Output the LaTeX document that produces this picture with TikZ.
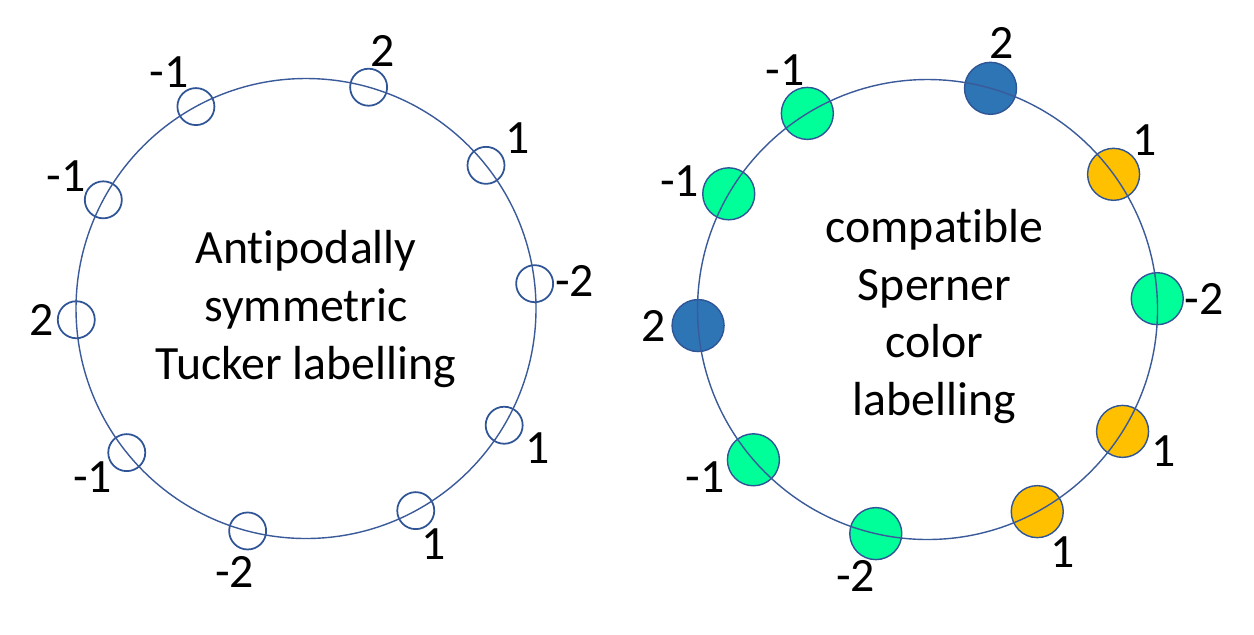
\documentclass[tikz,border=0pt]{standalone}
\usepackage{fontspec}
\setmainfont{Carlito}[Ligatures=NoCommon]
\usetikzlibrary{calc}
\definecolor{rimblue}{HTML}{3A5A9A}
\definecolor{dotline}{HTML}{2F5597}
\definecolor{dotblue}{HTML}{2E75B6}
\definecolor{dotgreen}{HTML}{00FF99}
\definecolor{dotgold}{HTML}{FFC000}
\newcommand{\labfont}{\fontsize{13.6pt}{16.4pt}\selectfont}
\tikzset{
  ring/.style={draw=rimblue, line width=0.4pt},
  tk/.style={circle, draw=dotline, line width=0.5pt, minimum size=3.7mm, inner sep=0pt},
  sp/.style={circle, draw=dotline, line width=0.4pt, minimum size=5.2mm, inner sep=0pt},
  spblue/.style={sp, fill=dotblue},
  spgreen/.style={sp, fill=dotgreen},
  spgold/.style={sp, fill=dotgold},
  num/.style={font=\labfont, inner sep=0pt},
  title/.style={font=\labfont, align=center, inner sep=0pt},
}
\begin{document}
\begin{tikzpicture}
    \useasboundingbox (0,0) rectangle (12.54,6.34);
    % Tucker labelling (left)
    \coordinate (lc) at (3.06,3.255);
    \node[tk] (t1) at ($(lc)+(118.6:2.3)$) {};
    \node[tk] (t2) at ($(lc)+(74.2:2.3)$) {};
    \node[tk] (t3) at ($(lc)+(38.5:2.3)$) {};
    \node[tk] (t4) at ($(lc)+(6.2:2.3)$) {};
    \node[tk] (t5) at ($(lc)+(-30.5:2.3)$) {};
    \node[tk] (t6) at ($(lc)+(-61.5:2.3)$) {};
    \node[tk] (t7) at ($(lc)+(-104.7:2.3)$) {};
    \node[tk] (t8) at ($(lc)+(-141.2:2.3)$) {};
    \node[tk] (t9) at ($(lc)+(182.8:2.3)$) {};
    \node[tk] (t10) at ($(lc)+(151.8:2.3)$) {};
    \draw[ring] (lc) circle[radius=2.3];
    \node[num] (tn1) at ($(t1)+(-0.27,0.34)$) {-1};
    \node[num] (tn2) at ($(t2)+(0.14,0.36)$) {2};
    \node[num] (tn3) at ($(t3)+(0.32,0.27)$) {1};
    \node[num] (tn4) at ($(t4)+(0.40,0.03)$) {-2};
    \node[num] (tn5) at ($(t5)+(0.33,-0.23)$) {1};
    \node[num] (tn6) at ($(t6)+(0.18,-0.33)$) {1};
    \node[num] (tn7) at ($(t7)+(-0.13,-0.41)$) {-2};
    \node[num] (tn8) at ($(t8)+(-0.34,-0.24)$) {-1};
    \node[num] (tn9) at ($(t9)+(-0.35,0)$) {2};
    \node[num] (tn10) at ($(t10)+(-0.37,0.24)$) {-1};
    \node[title] (ttxt) at (3.06,3.25) {Antipodally\\symmetric\\Tucker labelling};
    % Sperner colouring (right)
    \coordinate (rc) at (9.275,3.245);
    \node[spgreen] (s1) at ($(rc)+(121.5:2.3)$) {};
    \node[spblue] (s2) at ($(rc)+(74.1:2.3)$) {};
    \node[spgold] (s3) at ($(rc)+(36.0:2.3)$) {};
    \node[spgreen] (s4) at ($(rc)+(2.7:2.3)$) {};
    \node[spgold] (s5) at ($(rc)+(-32.0:2.3)$) {};
    \node[spgold] (s6) at ($(rc)+(-61.5:2.3)$) {};
    \node[spgreen] (s7) at ($(rc)+(-103.0:2.3)$) {};
    \node[spgreen] (s8) at ($(rc)+(-139.2:2.3)$) {};
    \node[spblue] (s9) at ($(rc)+(184.0:2.3)$) {};
    \node[spgreen] (s10) at ($(rc)+(149.8:2.3)$) {};
    \draw[ring] (rc) circle[radius=2.3];
    \node[num] (sn1) at ($(s1)+(-0.22,0.435)$) {-1};
    \node[num] (sn2) at ($(s2)+(0.11,0.455)$) {2};
    \node[num] (sn3) at ($(s3)+(0.31,0.34)$) {1};
    \node[num] (sn4) at ($(s4)+(0.47,0)$) {-2};
    \node[num] (sn5) at ($(s5)+(0.41,-0.20)$) {1};
    \node[num] (sn6) at ($(s6)+(0.25,-0.40)$) {1};
    \node[num] (sn7) at ($(s7)+(-0.20,-0.42)$) {-2};
    \node[num] (sn8) at ($(s8)+(-0.485,-0.17)$) {-1};
    \node[num] (sn9) at ($(s9)+(-0.445,0)$) {2};
    \node[num] (sn10) at ($(s10)+(-0.49,0.13)$) {-1};
    \node[title] (stxt) at (9.345,3.174) {compatible\\Sperner\\color\\labelling};
\end{tikzpicture}
\end{document}
